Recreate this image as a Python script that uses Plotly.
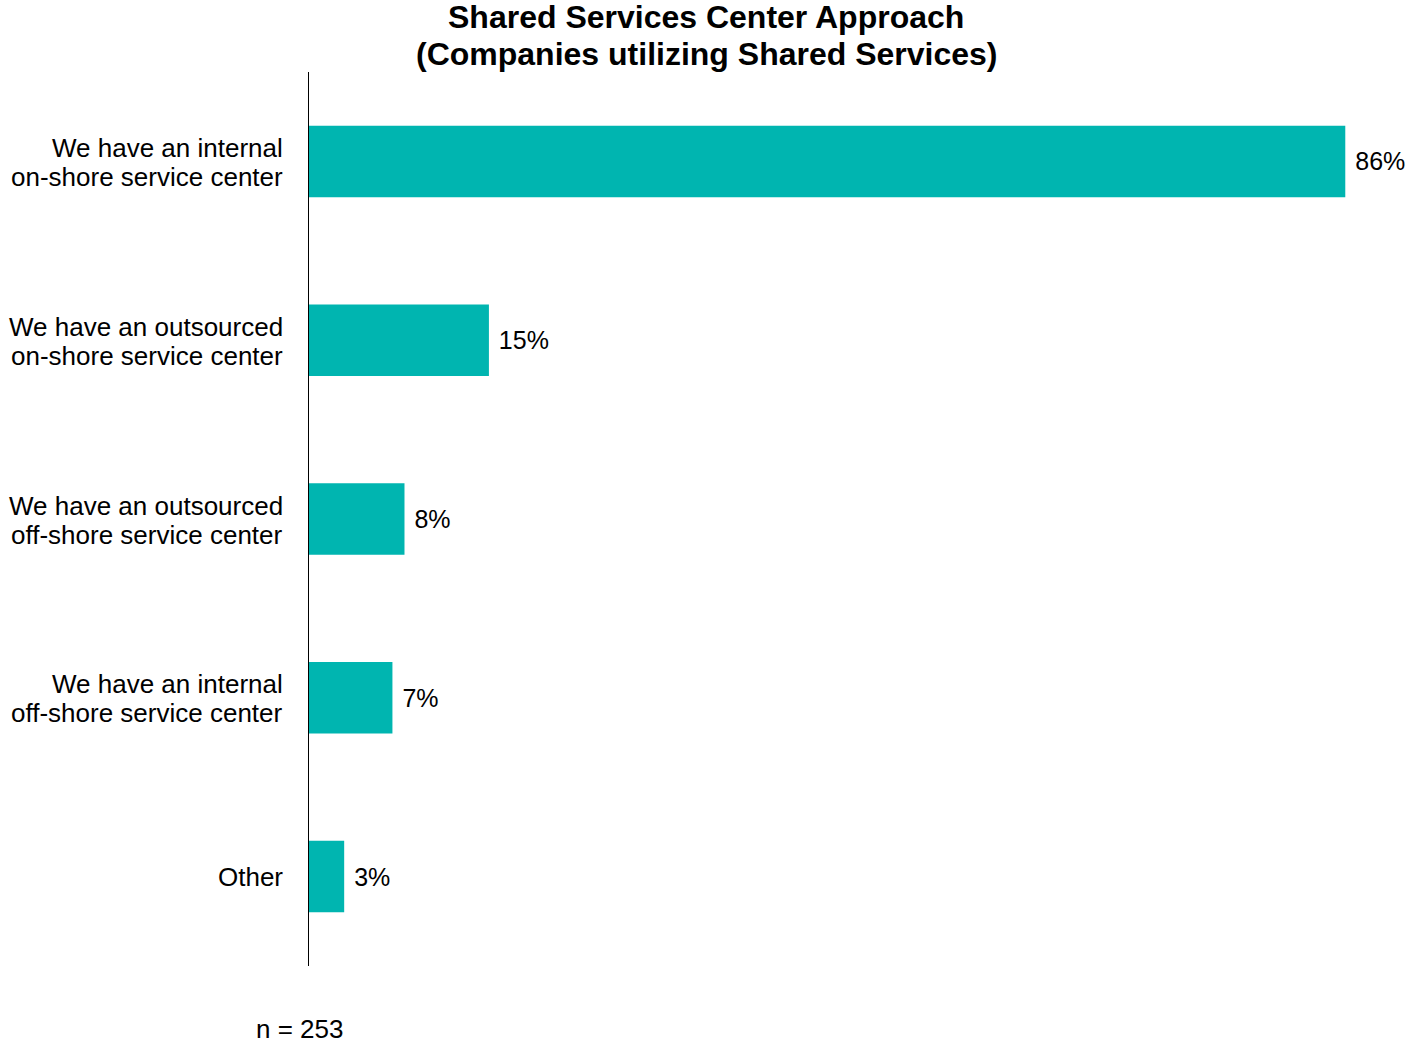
import plotly.graph_objects as go

categories = [
    "We have an internal\non-shore service center",
    "We have an outsourced\non-shore service center",
    "We have an outsourced\noff-shore service center",
    "We have an internal\noff-shore service center",
    "Other",
]
values = [86, 15, 8, 7, 3]
sample_note = "n = 253"
title_lines = ["Shared Services Center Approach", "(Companies utilizing Shared Services)"]

bar_color = "#00B5B0"
font_family = "Liberation Sans, Arial, sans-serif"
label_size = 26

fig = go.Figure(
    go.Bar(
        x=values,
        y=categories,
        orientation="h",
        marker=dict(color=bar_color, line=dict(width=0)),
        width=0.4,
        texttemplate=" %{x}%",
        textposition="outside",
        textfont=dict(size=25, color="#000000", family=font_family),
        cliponaxis=False,
        constraintext="none",
        hoverinfo="skip",
    )
)

annotations = []

# Two-line title, placed line by line for tight spacing
for line, y_px in zip(title_lines, [17, 54]):
    annotations.append(
        dict(
            text="<b>" + line + "</b>",
            xref="paper",
            yref="paper",
            x=(706 - 308) / 1100,
            y=(966 - y_px) / 894,
            xanchor="center",
            yanchor="middle",
            showarrow=False,
            font=dict(size=32, family=font_family, color="#000000"),
        )
    )

# Category labels, one annotation per line, anchored to each category on the y axis
for cat in categories:
    lines = cat.split("\n")
    if len(lines) == 1:
        shifts = [0]
    else:
        shifts = [13.5, -15.5]
    for line, dy in zip(lines, shifts):
        annotations.append(
            dict(
                text=line,
                xref="paper",
                yref="y",
                x=0,
                y=cat,
                xanchor="right",
                yanchor="middle",
                xshift=-23,
                yshift=dy,
                showarrow=False,
                font=dict(size=label_size, family=font_family, color="#000000"),
            )
        )

# Sample size note below the chart
annotations.append(
    dict(
        text=sample_note,
        xref="paper",
        yref="paper",
        x=0,
        y=-(1029 - 966) / 894,
        xanchor="center",
        yanchor="middle",
        xshift=-9,
        showarrow=False,
        font=dict(size=label_size, family=font_family, color="#000000"),
    )
)

fig.update_layout(
    width=1408,
    height=1043,
    margin=dict(l=308, r=0, t=72, b=77),
    paper_bgcolor="white",
    plot_bgcolor="white",
    showlegend=False,
    font=dict(family=font_family, color="#000000"),
    xaxis=dict(
        range=[0, 91.2],
        visible=False,
        fixedrange=True,
    ),
    yaxis=dict(
        autorange="reversed",
        showgrid=False,
        zeroline=False,
        showline=False,
        showticklabels=False,
        ticks="",
        fixedrange=True,
    ),
    shapes=[
        dict(
            type="line",
            xref="x",
            yref="paper",
            x0=0,
            x1=0,
            y0=0,
            y1=1,
            layer="above",
            line=dict(color="#000000", width=2),
        )
    ],
    annotations=annotations,
)

fig.write_html("out.html")
